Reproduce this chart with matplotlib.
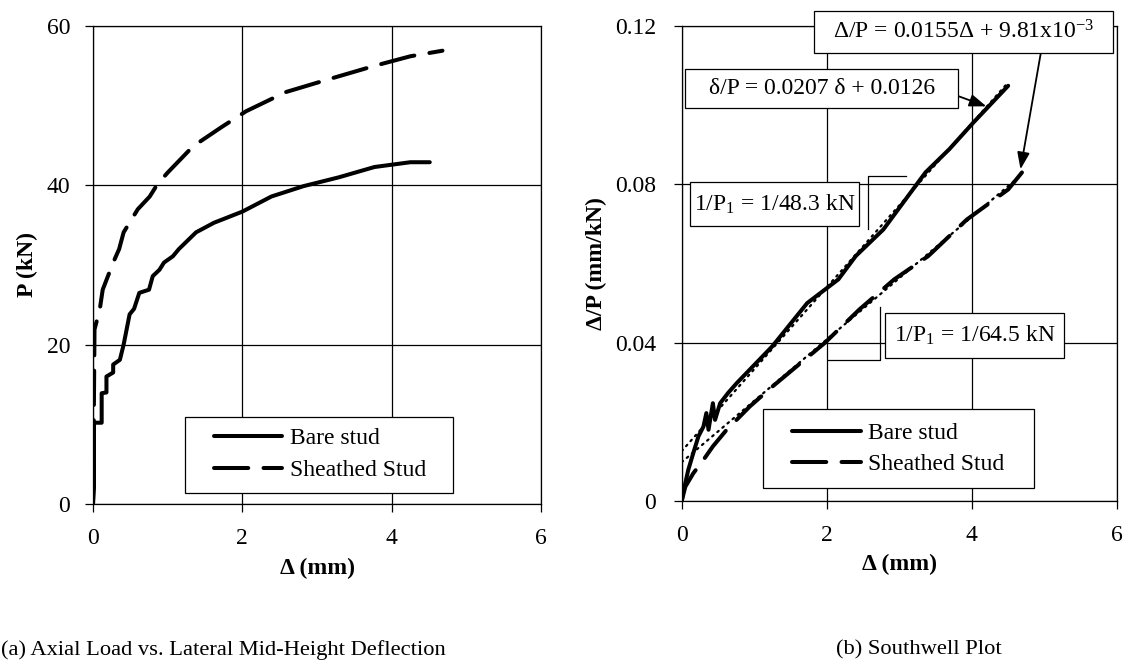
import numpy as np
import matplotlib
matplotlib.use('Agg')
import matplotlib.pyplot as plt
from matplotlib.patches import Rectangle

plt.rcParams.update({
    'font.family': 'Liberation Serif',
    'font.size': 17,
    'mathtext.fontset': 'custom',
    'mathtext.rm': 'Liberation Serif',
    'mathtext.it': 'Liberation Serif:italic',
    'mathtext.bf': 'Liberation Serif:bold',
})

# axial load vs mid-height deflection (mm, kN)
bare_d = [0, 0.013, 0.013, 0.116, 0.116, 0.18, 0.18, 0.27, 0.27, 0.36, 0.41, 0.45,
          0.49, 0.55, 0.62, 0.75, 0.8, 0.89, 0.95, 1.07, 1.15, 1.38, 1.62, 2.0,
          2.39, 2.82, 3.29, 3.77, 4.25, 4.51]
bare_p = [0, 2, 10.2, 10.2, 13.9, 14.0, 16.0, 16.5, 17.5, 18.1, 20.0, 21.9,
          23.8, 24.5, 26.5, 26.9, 28.6, 29.4, 30.3, 31.1, 32.0, 34.1, 35.3, 36.7,
          38.6, 39.9, 41.0, 42.3, 42.9, 42.9]
sheathed_d = [0, 0.01, 0.02, 0.09, 0.13, 0.2, 0.27, 0.35, 0.41, 0.6, 0.76, 0.86,
              1.0, 1.34, 1.72, 2.05, 2.58, 3.15, 3.77, 4.25, 4.68]
sheathed_p = [0, 10, 21.9, 24.4, 26.9, 28.6, 30.3, 32.0, 34.1, 37.0, 38.6, 40.1,
              41.6, 44.9, 47.3, 49.3, 51.7, 53.3, 55.0, 56.2, 56.9]

# Southwell plot (mm, mm/kN)
sw_bare_d = [0, 0.02, 0.09, 0.16, 0.23, 0.3, 0.34, 0.37, 0.43, 0.46, 0.53, 0.64,
             0.76, 1.25, 1.73, 2.16, 2.40, 2.78, 3.36, 3.69, 4.02, 4.50]
sw_bare_r = [0, 0.002, 0.0078, 0.0121, 0.0163, 0.0188, 0.0222, 0.018, 0.0247,
             0.0205, 0.0247, 0.0273, 0.0298, 0.0391, 0.050, 0.056, 0.0619, 0.0686,
             0.083, 0.0889, 0.0956, 0.1049]
sw_sheathed_d = [0, 0.05, 0.16, 0.3, 0.43, 0.62, 0.8, 0.94, 1.25, 1.97, 2.45, 2.93,
                 3.40, 3.93, 4.50, 4.69]
sw_sheathed_r = [0, 0.0036, 0.007, 0.0104, 0.0138, 0.018, 0.0213, 0.0239, 0.0289,
                 0.0399, 0.0484, 0.056, 0.0619, 0.0711, 0.0787, 0.083]

# linear fits (slope, intercept) and their extent
bare_fit = (0.0207, 0.0126)
sheathed_fit = (0.0155, 9.81e-3)
bare_fit_d = np.array([0, 4.5])
sheathed_fit_d = np.array([0, 4.7])

labels = ['Bare stud', 'Sheathed Stud']

fig = plt.figure(figsize=(11.26, 6.6), dpi=100)
ax1 = fig.add_axes([0.0826, 0.2364, 0.3979, 0.7242])
ax2 = fig.add_axes([0.6054, 0.2409, 0.3866, 0.7197])

dash_kw = dict(dashes=(8.5, 3.8), dash_capstyle='round')
LW = 2.9


def style(ax, ymax, yticks, yticklabels, ylabel, ylx, ypad):
    ax.set_xlim(0, 6)
    ax.set_ylim(0, ymax)
    ax.set_xticks([0, 2, 4, 6])
    ax.set_yticks(yticks)
    ax.set_yticklabels(yticklabels)
    ax.grid(True, color='k', lw=0.9)
    ax.set_axisbelow(True)
    ax.tick_params(direction='out', length=5.5, width=0.9, color='k')
    ax.tick_params(axis='x', pad=11.5)
    ax.tick_params(axis='y', pad=ypad)
    for s in ax.spines.values():
        s.set_linewidth(0.9)
    ax.set_xlabel('Δ (mm)', fontweight='bold')
    ax.set_ylabel(ylabel, fontweight='bold')
    ax.xaxis.set_label_coords(0.5, -0.112)
    ax.yaxis.set_label_coords(ylx, 0.5)


def legend_box(ax, box, anchor, handles):
    x0, y0, x1, y1 = box
    ax.add_patch(Rectangle((x0, y0), x1 - x0, y1 - y0, transform=ax.transAxes,
                           fc='white', ec='k', lw=0.9, zorder=5))
    leg = ax.legend(handles, labels, loc='center left', bbox_to_anchor=anchor,
                    frameon=False, borderpad=0, borderaxespad=0, handlelength=2.9,
                    handletextpad=0.3, labelspacing=0.42, fontsize=17)
    leg.set_zorder(6)


def label_box(ax, x0, x1, y0, y1, text, tx, ty):
    ax.add_patch(Rectangle((x0, y0), x1 - x0, y1 - y0, fc='white', ec='k',
                           lw=0.9, zorder=6, clip_on=False))
    ax.text(tx, ty, text, ha='center', va='center', zorder=7)


# (a) load-deflection
l1, = ax1.plot(bare_d, bare_p, color='k', lw=LW, solid_capstyle='round',
               solid_joinstyle='round')
l2, = ax1.plot(sheathed_d, sheathed_p, color='k', lw=LW, **dash_kw)
style(ax1, 60, [0, 20, 40, 60], ['0', '20', '40', '60'], 'P (kN)', -0.123, 11)
legend_box(ax1, (0.2045, 0.0224, 0.804, 0.1826), (0.270, 0.1036), [l1, l2])

# (b) Southwell plot
m1, = ax2.plot(sw_bare_d, sw_bare_r, color='k', lw=LW, solid_capstyle='round',
               solid_joinstyle='round')
m2, = ax2.plot(sw_sheathed_d, sw_sheathed_r, color='k', lw=LW, **dash_kw)
ax2.plot(bare_fit_d, bare_fit[0] * bare_fit_d + bare_fit[1], color='k', lw=1.6,
         linestyle=(0, (0.8, 2.2)), dash_capstyle='round')
ax2.plot(sheathed_fit_d, sheathed_fit[0] * sheathed_fit_d + sheathed_fit[1],
         color='k', lw=1.6, linestyle=(0, (0.8, 2.2)), dash_capstyle='round')
style(ax2, 0.12, [0, 0.04, 0.08, 0.12], ['0', '0.04', '0.08', '0.12'],
      'Δ/P (mm/kN)', -0.171, 13)
legend_box(ax2, (0.1863, 0.0274, 0.8087, 0.1937), (0.254, 0.1095), [m1, m2])

arrow = dict(arrowstyle='-|>,head_length=0.6,head_width=0.22', color='k', lw=1.3,
             shrinkA=0, shrinkB=0)

label_box(ax2, 1.824, 5.94, 0.1132, 0.1239,
          'Δ/P = 0.0155Δ + 9.81x10$^{-3}$', 3.88, 0.1185)
ax2.annotate('', xy=(4.67, 0.0838), xytext=(4.95, 0.1132), arrowprops=arrow)
label_box(ax2, 0.046, 3.81, 0.0992, 0.1091,
          'δ/P = 0.0207 δ + 0.0126', 1.93, 0.1042)
ax2.annotate('', xy=(4.20, 0.0997), xytext=(3.81, 0.1023), arrowprops=arrow)

label_box(ax2, 0.114, 2.443, 0.0694, 0.0805, '1/P$_1$ = 1/48.3 kN', 1.28, 0.0749)
ax2.plot([3.09, 2.57, 2.57], [0.0820, 0.0820, 0.0686], color='k', lw=0.9)
label_box(ax2, 2.80, 5.27, 0.0362, 0.0476, '1/P$_1$ = 1/64.5 kN', 4.04, 0.0419)
ax2.plot([2.73, 2.73, 2.02], [0.0491, 0.0357, 0.0357], color='k', lw=0.9)

fig.text(0.001, 0.015, '(a) Axial Load vs. Lateral Mid-Height Deflection',
         ha='left', va='center', fontsize=16.2)
fig.text(0.7425, 0.015, '(b) Southwell Plot', ha='left', va='center', fontsize=16.2)

fig.savefig('out.png', dpi=100)
